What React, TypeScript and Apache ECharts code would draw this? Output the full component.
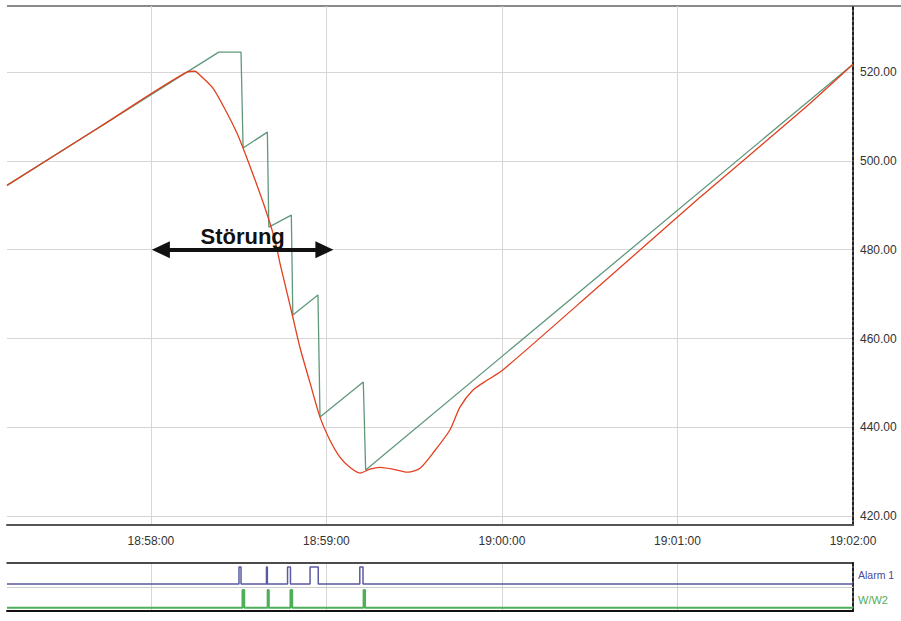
import React, { useEffect, useRef } from 'react';
import * as echarts from 'echarts';

// Time axis: seconds after 18:58:00
const X_TICKS = [0, 60, 120, 180, 240];
const X_TICK_LABELS = ['18:58:00', '18:59:00', '19:00:00', '19:01:00', '19:02:00'];
const Y_TICKS = [420, 440, 460, 480, 500, 520];
const Y_TICK_LABELS = ['420.00', '440.00', '460.00', '480.00', '500.00', '520.00'];
const X_MIN = -49.2;
const X_MAX = 240;
const Y_MIN = 418;
const Y_MAX = 534.9;

// Green (sawtooth) signal
const greenT = [-49.2, 12.3, 23.2, 30.8, 31.5, 39.8, 40.3, 48.0, 48.5, 57.1, 57.8, 72.6, 73.4, 240.0];
const greenV = [494.5, 520.0, 524.5, 524.5, 502.9, 506.5, 485.1, 487.8, 465.3, 469.8, 442.3, 450.2, 430.4, 521.8];

// Red (process value) signal
const redT = [-49.2, -17.4, 12.3, 15.0, 16.8, 21.2, 26.0, 29.4, 31.5, 35.6, 39.0, 42.4, 44.1, 48.2, 50.9, 54.4, 57.8, 61.2, 64.6, 68.0, 71.5, 74.9, 78.3, 82.7, 87.9, 92.0, 96.4, 102.2, 105.6, 110.1, 114.9, 120.3, 153.5, 187.7, 221.9, 240.0];
const redV = [494.5, 507.7, 520.0, 520.2, 519.3, 516.4, 510.8, 506.3, 502.9, 495.7, 489.4, 482.2, 477.0, 465.7, 458.1, 450.0, 442.3, 437.1, 433.3, 431.0, 429.7, 430.6, 431.0, 430.6, 429.9, 430.8, 434.2, 439.4, 444.5, 448.4, 450.6, 452.9, 472.0, 491.8, 511.0, 521.8];

// Digital tracks: on-intervals [start, end] in seconds after 18:58:00
const alarm1On = [[30.1, 30.8], [39.5, 39.8], [46.7, 47.7], [54.4, 57.2], [71.4, 72.5]];
const ww2On = [[31.3, 31.9], [39.9, 40.3], [47.7, 48.3], [72.7, 73.2]];

// Annotation
const DISTURB_START = 3.4;
const DISTURB_END = 59.3;
const DISTURB_LEVEL = 480;
const DISTURB_LABEL = 'Störung';

const FONT = "'Liberation Sans', Arial, sans-serif";

function zip(t: number[], v: number[]) {
  return t.map((x, i) => [x, v[i]]);
}

function pulses(on: number[][], base: number, h: number) {
  const pts: number[][] = [[X_MIN, base]];
  on.forEach(([a, b]) => {
    pts.push([a, base], [a, base + h], [b, base + h], [b, base]);
  });
  pts.push([X_MAX, base]);
  return pts;
}

function lookup(ticks: number[], labels: string[], v: number) {
  const i = ticks.findIndex((t) => Math.abs(t - v) < 1e-6);
  return i >= 0 ? labels[i] : '';
}

export default function App() {
  const ref = useRef<HTMLDivElement>(null);

  useEffect(() => {
    document.body.style.margin = '0';
    const chart = echarts.init(ref.current!, null, { renderer: 'svg' });
    const grid = '#d6d6d6';
    chart.setOption({
      animation: false,
      backgroundColor: '#ffffff',
      graphic: [
        {
          type: 'rect',
          shape: { x: 7, y: 5, width: 894, height: 2 },
          style: { fill: '#8a8a8a' },
          silent: true,
        },
      ],
      grid: [
        { left: 7, right: 48, top: 6, height: 519, outerBoundsMode: 'none', containLabel: false },
        { left: 7, right: 48, top: 563, height: 48, outerBoundsMode: 'none', containLabel: false },
      ],
      xAxis: [
        {
          type: 'value',
          gridIndex: 0,
          min: X_MIN,
          max: X_MAX,
          axisLine: { show: true, onZero: false, lineStyle: { color: '#555', width: 2 } },
          axisTick: { show: false, customValues: X_TICKS },
          axisLabel: {
            customValues: X_TICKS,
            formatter: (v: number) => lookup(X_TICKS, X_TICK_LABELS, v),
            fontFamily: FONT,
            fontSize: 12,
            color: '#333',
            margin: 10,
          },
          splitLine: { show: true, lineStyle: { color: grid, width: 1 } },
        },
        {
          type: 'value',
          gridIndex: 1,
          min: X_MIN,
          max: X_MAX,
          axisLine: { show: true, onZero: false, lineStyle: { color: '#111', width: 2 } },
          axisTick: { show: false, customValues: X_TICKS },
          axisLabel: { show: false, customValues: X_TICKS },
          splitLine: { show: true, lineStyle: { color: grid, width: 1 } },
        },
        {
          type: 'value',
          gridIndex: 1,
          position: 'top',
          min: X_MIN,
          max: X_MAX,
          axisLine: { show: true, onZero: false, lineStyle: { color: '#111', width: 1.5 } },
          axisTick: { show: false },
          axisLabel: { show: false },
          splitLine: { show: false },
        },
      ],
      yAxis: [
        {
          type: 'value',
          gridIndex: 0,
          position: 'right',
          min: Y_MIN,
          max: Y_MAX,
          axisLine: { show: true, onZero: false, lineStyle: { color: '#222', width: 2, type: [3, 2] } },
          axisTick: { show: false, customValues: Y_TICKS },
          axisLabel: {
            customValues: Y_TICKS,
            formatter: (v: number) => lookup(Y_TICKS, Y_TICK_LABELS, v),
            fontFamily: FONT,
            fontSize: 12,
            color: '#333',
            margin: 7,
          },
          splitLine: { show: true, lineStyle: { color: grid, width: 1 } },
        },
        {
          type: 'value',
          gridIndex: 1,
          position: 'right',
          min: 0,
          max: 4.8,
          axisLine: { show: true, onZero: false, lineStyle: { color: '#222', width: 2, type: [3, 2] } },
          axisTick: { show: false, customValues: [1.1, 3.6] },
          axisLabel: {
            customValues: [1.1, 3.6],
            margin: 5,
            formatter: (v: number) => (v > 2 ? '{a|Alarm 1}' : '{w|W/W2}'),
            rich: {
              a: { fontFamily: FONT, fontSize: 10.5, color: '#4a4a9a' },
              w: { fontFamily: FONT, fontSize: 11, color: '#4fae5a' },
            },
          },
          splitLine: { show: false },
        },
      ],
      series: [
        {
          name: 'Stellgröße',
          type: 'line',
          xAxisIndex: 0,
          yAxisIndex: 0,
          data: zip(greenT, greenV),
          showSymbol: false,
          symbol: 'none',
          lineStyle: { color: '#5f987c', width: 1.3 },
        },
        {
          name: 'Istwert',
          type: 'line',
          xAxisIndex: 0,
          yAxisIndex: 0,
          data: zip(redT, redV),
          showSymbol: false,
          symbol: 'none',
          smooth: 0.25,
          lineStyle: { color: '#e2401f', width: 1.3 },
          markLine: {
            silent: true,
            symbol: ['triangle', 'triangle'],
            symbolSize: [17, 18],
            lineStyle: { color: '#111', width: 4, type: 'solid' },
            label: {
              show: true,
              position: 'middle',
              formatter: DISTURB_LABEL,
              fontFamily: FONT,
              fontWeight: 'bold',
              fontSize: 22,
              color: '#111',
              distance: 2,
            },
            data: [[{ coord: [DISTURB_START, DISTURB_LEVEL] }, { coord: [DISTURB_END, DISTURB_LEVEL] }]],
          },
        },
        {
          name: 'Alarm 1',
          type: 'line',
          xAxisIndex: 1,
          yAxisIndex: 1,
          data: pulses(alarm1On, 2.7, 1.7),
          showSymbol: false,
          symbol: 'none',
          lineStyle: { color: '#5a5aa2', width: 1.5 },
          markLine: {
            silent: true,
            symbol: 'none',
            label: { show: false },
            lineStyle: { color: '#cfcfcf', width: 1, type: 'solid' },
            data: [{ yAxis: 2.4 }],
          },
        },
        {
          name: 'W/W2',
          type: 'line',
          xAxisIndex: 1,
          yAxisIndex: 1,
          data: pulses(ww2On, 0.33, 1.77),
          showSymbol: false,
          symbol: 'none',
          lineStyle: { color: '#4fae5a', width: 2 },
        },
      ],
    });
    return () => chart.dispose();
  }, []);

  return <div ref={ref} style={{ position: 'fixed', left: 0, top: 0, width: 901, height: 621 }} />;
}
